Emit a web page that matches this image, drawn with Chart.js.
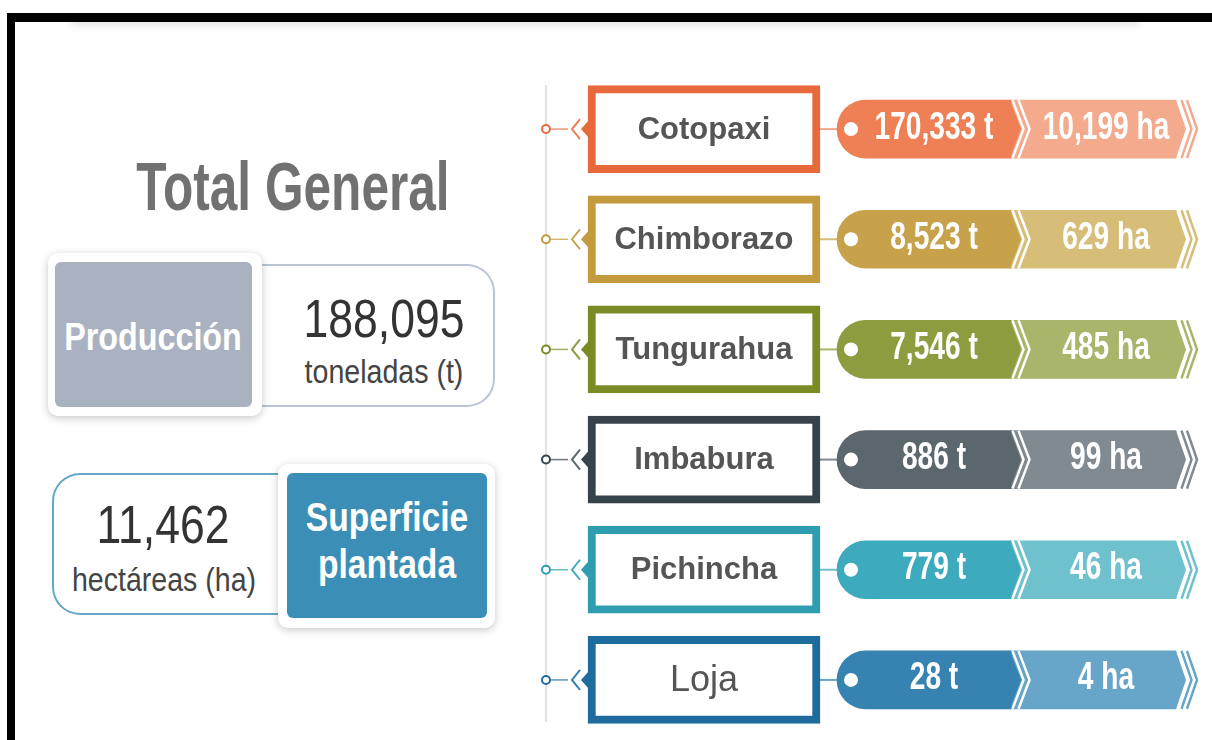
<!DOCTYPE html>
<html lang="es">
<head>
<meta charset="utf-8">
<title>Total General</title>
<script src="https://cdn.jsdelivr.net/npm/chart.js@4.4.1/dist/chart.umd.min.js"></script>
<style>
  body { margin: 0; width: 1212px; height: 740px; background: #fff; overflow: hidden; position: relative;
         font-family: "Liberation Sans", Arial, sans-serif; }
  .abs { position: absolute; }
  .txt { position: absolute; text-align: center; white-space: nowrap; transform-origin: 50% 50%; }
  .narrow { transform: scaleX(0.84); }
  #barTop { left: 7px; top: 13px; width: 1205px; height: 9px; background: #000; z-index: 3; }
  #barLeft { left: 7px; top: 13px; width: 8px; height: 727px; background: #000; z-index: 3; }
  #sombra { left: 70px; top: 12px; width: 1070px; height: 9px; background: #fff; box-shadow: 0 5px 7px rgba(0,0,0,0.10); z-index: 1; }
  #chartWrap { position: absolute; left: 520px; top: 74px; width: 692px; height: 661px; }
</style>
</head>
<body>
<div id="sombra" class="abs"></div>
<div id="barTop" class="abs"></div>
<div id="barLeft" class="abs"></div>

<!-- titulo -->
<div class="txt" style="left:93px; top:156px; width:400px; height:62px; line-height:62px; font-size:62px; font-weight:bold; color:#717171; transform:scale(0.8, 1.1);">Total General</div>

<!-- produccion -->
<div class="abs" style="left:240px; top:264px; width:253px; height:139px; border:2px solid #bac4d2; border-left:none; border-radius:0 28px 28px 0;"></div>
<div class="abs" style="left:48px; top:253px; width:214px; height:163px; background:#fff; border-radius:10px; box-shadow:0 2px 8px rgba(0,0,0,0.22);"></div>
<div class="abs" style="left:55px; top:262px; width:197px; height:145px; background:#aab2c1; border-radius:6px;"></div>
<div class="txt" style="left:23px; top:312px; width:260px; height:50px; line-height:50px; font-size:38px; font-weight:bold; color:#fff; transform:scaleX(0.85);">Producción</div>
<div id="totProd" class="txt narrow" style="left:284px; top:289px; width:200px; height:60px; line-height:60px; font-size:53px; color:#333;"></div>
<div class="txt narrow" style="left:264px; top:351px; width:240px; height:40px; line-height:40px; font-size:34px; color:#444;">toneladas (t)</div>

<!-- superficie -->
<div class="abs" style="left:52px; top:473px; width:258px; height:138px; border:2px solid #64a8c7; border-right:none; border-radius:28px 0 0 28px;"></div>
<div class="abs" style="left:278px; top:464px; width:217px; height:164px; background:#fff; border-radius:10px; box-shadow:0 2px 8px rgba(0,0,0,0.22);"></div>
<div class="abs" style="left:287px; top:473px; width:200px; height:145px; background:#3b8fb6; border-radius:6px;"></div>
<div class="txt narrow" style="left:267px; top:494px; width:240px; height:46px; line-height:46px; font-size:40px; font-weight:bold; color:#fff;">Superficie</div>
<div class="txt narrow" style="left:267px; top:541px; width:240px; height:46px; line-height:46px; font-size:40px; font-weight:bold; color:#fff;">plantada</div>
<div id="totSup" class="txt narrow" style="left:63px; top:495px; width:200px; height:60px; line-height:60px; font-size:53px; color:#333;"></div>
<div class="txt narrow" style="left:44px; top:559px; width:240px; height:40px; line-height:40px; font-size:34px; color:#444;">hectáreas (ha)</div>

<div id="chartWrap"><canvas id="chart"></canvas></div>

<script>
// datos
const provincias = ["Cotopaxi", "Chimborazo", "Tungurahua", "Imbabura", "Pichincha", "Loja"];
const produccion = [170333, 8523, 7546, 886, 779, 28];   // toneladas
const superficie = [10199, 629, 485, 99, 46, 4];         // hectareas
const totalProduccion = 188095;
const totalSuperficie = 11462;

// colores por provincia
const colorMarco = ["#e8693c", "#c49a3e", "#7a8b26", "#36434b", "#2e9db0", "#1e6c9d"];
const colorProd = ["#ef7f55", "#c8a24b", "#8d9c3f", "#5b666d", "#3eaabd", "#3682b0"];
const colorSup = ["#f4aa8c", "#d7be78", "#a9b56a", "#808a90", "#70c1ce", "#67a5c9"];

const fmt = (n) => n.toLocaleString("en-US");

document.getElementById("totProd").textContent = fmt(totalProduccion);
document.getElementById("totSup").textContent = fmt(totalSuperficie);

const fuenteValor = 'bold 38px "Liberation Sans", Arial, sans-serif';

function chevron(ctx, x0, cy, h, d) {
  ctx.beginPath();
  ctx.moveTo(x0, cy - h);
  ctx.lineTo(x0 + d, cy);
  ctx.lineTo(x0, cy + h);
}

const decoracion = {
  id: "decoracion",
  beforeDatasetsDraw(chart) {
    const { ctx, scales: { x, y } } = chart;
    const px = (v) => x.getPixelForValue(v);
    ctx.save();
    // linea vertical
    ctx.strokeStyle = "#d9d9d9";
    ctx.lineWidth = 1.5;
    ctx.beginPath();
    ctx.moveTo(px(546), y.top + 11);
    ctx.lineTo(px(546), y.bottom - 13);
    ctx.stroke();
    // conector caja -> etiqueta
    provincias.forEach((p, i) => {
      const cy = y.getPixelForValue(i);
      ctx.strokeStyle = colorSup[i];
      ctx.lineWidth = 2;
      ctx.beginPath();
      ctx.moveTo(px(816), cy);
      ctx.lineTo(px(846), cy);
      ctx.stroke();
    });
    ctx.restore();
  },
  afterDatasetsDraw(chart) {
    const { ctx, scales: { x, y } } = chart;
    const px = (v) => x.getPixelForValue(v);
    const h = 29;
    provincias.forEach((p, i) => {
      const cy = y.getPixelForValue(i);
      ctx.save();

      // punto en la linea + conector
      ctx.strokeStyle = colorMarco[i];
      ctx.globalAlpha = 0.7;
      ctx.lineWidth = 1.5;
      ctx.beginPath();
      ctx.moveTo(px(551), cy);
      ctx.lineTo(px(568), cy);
      ctx.stroke();
      ctx.globalAlpha = 1;
      ctx.lineWidth = 2;
      ctx.fillStyle = "#fff";
      ctx.beginPath();
      ctx.arc(px(546), cy, 4, 0, Math.PI * 2);
      ctx.fill();
      ctx.stroke();

      // flecha izquierda de la caja
      ctx.strokeStyle = colorProd[i];
      ctx.lineWidth = 2;
      chevron(ctx, px(580), cy, 10, -8);
      ctx.stroke();
      ctx.fillStyle = colorMarco[i];
      chevron(ctx, px(589), cy, 9, -8);
      ctx.closePath();
      ctx.fill();

      // union entre los dos segmentos
      ctx.fillStyle = colorProd[i];
      chevron(ctx, px(1010), cy, h, 11);
      ctx.closePath();
      ctx.fill();
      ctx.strokeStyle = "#fff";
      ctx.lineWidth = 2.5;
      chevron(ctx, px(1012.5), cy, h, 11);
      ctx.stroke();
      chevron(ctx, px(1018.5), cy, h, 11);
      ctx.stroke();

      // punta derecha
      ctx.fillStyle = colorSup[i];
      chevron(ctx, px(1176), cy, h, 10);
      ctx.closePath();
      ctx.fill();
      ctx.strokeStyle = colorSup[i];
      ctx.lineWidth = 2.5;
      chevron(ctx, px(1181.5), cy, h, 10);
      ctx.stroke();
      chevron(ctx, px(1187), cy, h, 10);
      ctx.stroke();

      // punto blanco
      ctx.fillStyle = "#fff";
      ctx.beginPath();
      ctx.arc(px(851), cy, 7, 0, Math.PI * 2);
      ctx.fill();

      // textos de valores
      ctx.textAlign = "center";
      ctx.textBaseline = "middle";
      ctx.font = fuenteValor;
      [[produccion[i], " t", 934], [superficie[i], " ha", 1106]].forEach(([v, u, cx]) => {
        ctx.save();
        ctx.translate(px(cx), cy - 1);
        ctx.scale(0.74, 1);
        ctx.fillText(fmt(v) + u, 0, 0);
        ctx.restore();
      });

      // nombre de provincia
      ctx.fillStyle = "#555";
      ctx.font = p === "Loja" ? '36px "Liberation Sans", Arial, sans-serif' : 'bold 31px "Liberation Sans", Arial, sans-serif';
      ctx.fillText(p, px(704), cy + 1);
      ctx.restore();
    });
  }
};

new Chart(document.getElementById("chart"), {
  type: "bar",
  data: {
    labels: provincias,
    datasets: [
      {
        label: "Provincia",
        data: provincias.map(() => [588, 820]),
        backgroundColor: "#fff",
        borderColor: colorMarco,
        borderWidth: 8,
        borderSkipped: false,
        barThickness: 87,
        grouped: false,
      },
      {
        label: "Producción (t)",
        data: produccion.map(() => [837, 1011]),
        backgroundColor: colorProd,
        borderRadius: { topLeft: 29, bottomLeft: 29, topRight: 0, bottomRight: 0 },
        borderSkipped: false,
        barThickness: 58,
        grouped: false,
      },
      {
        label: "Superficie (ha)",
        data: superficie.map(() => [1011, 1176]),
        backgroundColor: colorSup,
        borderSkipped: false,
        barThickness: 58,
        grouped: false,
      },
    ],
  },
  options: {
    indexAxis: "y",
    responsive: true,
    maintainAspectRatio: false,
    devicePixelRatio: 1,
    animation: false,
    events: [],
    layout: { padding: 0 },
    scales: {
      x: { type: "linear", min: 520, max: 1212, display: false },
      y: { display: false },
    },
    plugins: {
      legend: { display: false },
      tooltip: { enabled: false },
    },
  },
  plugins: [decoracion],
});
</script>
</body>
</html>
